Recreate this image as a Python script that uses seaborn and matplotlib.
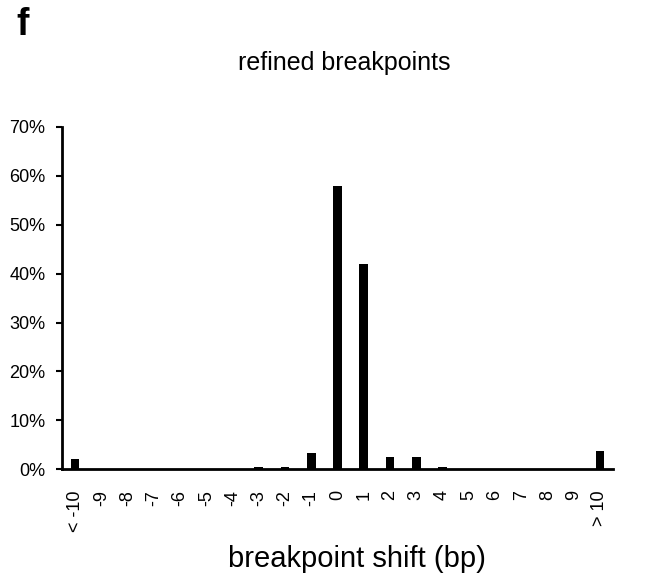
import matplotlib
matplotlib.use("Agg")
import matplotlib.pyplot as plt
import seaborn as sns
import pandas as pd
from matplotlib.ticker import PercentFormatter

categories = ["< -10", "-9", "-8", "-7", "-6", "-5", "-4", "-3", "-2", "-1",
              "0", "1", "2", "3", "4", "5", "6", "7", "8", "9", "> 10"]
values = [2.1, 0, 0, 0, 0, 0, 0, 0.4, 0.4, 3.4,
          57.8, 42.0, 2.6, 2.6, 0.4, 0, 0, 0, 0, 0, 3.8]

sns.set_theme(style="white")
plt.rcParams["font.family"] = ["Liberation Sans", "DejaVu Sans"]
plt.rcParams["text.color"] = "black"
plt.rcParams["xtick.color"] = "black"
plt.rcParams["ytick.color"] = "black"

df = pd.DataFrame({"shift": categories, "pct": values})

fig = plt.figure(figsize=(6.65, 5.78), dpi=100)
ax = fig.add_axes([0.0932, 0.188, 0.8286, 0.5927])
sns.barplot(data=df, x="shift", y="pct", order=categories, color="black",
            width=0.33, saturation=1, linewidth=0, ax=ax)

ax.set_ylim(0, 70)
ax.set_xlim(-0.5, len(categories) - 0.5)
ax.set_yticks(range(0, 71, 10))
ax.yaxis.set_major_formatter(PercentFormatter(decimals=0))
ax.tick_params(axis="y", left=True, length=4, width=1.5, labelsize=13, pad=8,
               color="black", labelcolor="black")
ax.tick_params(axis="x", bottom=False, labelsize=13, pad=9, labelcolor="black")
plt.setp(ax.get_xticklabels(), rotation=90)
for s in ["top", "right"]:
    ax.spines[s].set_visible(False)
for s in ["left", "bottom"]:
    ax.spines[s].set_color("black")
    ax.spines[s].set_linewidth(2)

ax.set_xlabel("breakpoint shift (bp)", fontsize=21, color="black")
ax.xaxis.label.set_va("baseline")
ax.xaxis.set_label_coords(0.535, -0.285)
ax.set_ylabel("")
ax.set_title("refined breakpoints", fontsize=18, color="black",
             x=0.513, y=1.142, va="baseline")
fig.text(0.025, 1 - 35 / 578, "f", fontsize=27, fontweight="bold",
         va="baseline", ha="left", color="black")

fig.savefig("out.png", dpi=100)
